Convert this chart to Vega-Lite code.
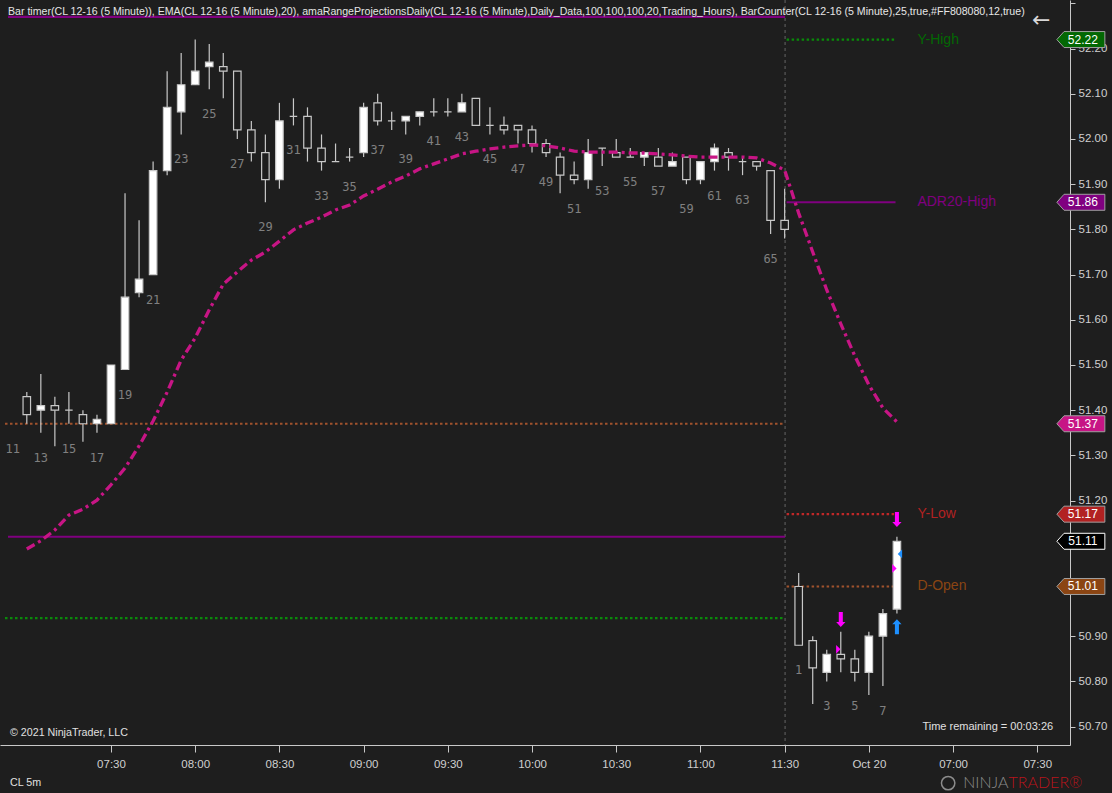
{
  "$schema": "https://vega.github.io/schema/vega-lite/v6.json",
  "width": 1070,
  "height": 745,
  "padding": {"left": 0, "top": 0, "right": 42, "bottom": 48},
  "autosize": {"type": "none"},
  "background": "#1e1e1e",
  "config": {
    "view": {"stroke": null},
    "text": {"font": "Liberation Sans"},
    "axis": {"labelFont": "Liberation Sans", "labelFontSize": 11.5, "labelColor": "#d0d0d0", "domainColor": "#c8c8c8", "tickColor": "#c8c8c8", "grid": false, "labelOverlap": false, "labelFlush": false}
  },
  "datasets": {
    "candles": [
      {"g": 11, "n": 11, "l": 51.37},
      {"g": 12, "n": 12, "o": 51.43, "h": 51.44, "l": 51.37, "c": 51.39, "e": 51.093},
      {"g": 13, "n": 13, "o": 51.40, "h": 51.48, "l": 51.35, "c": 51.41, "e": 51.111},
      {"g": 14, "n": 14, "o": 51.41, "h": 51.43, "l": 51.32, "c": 51.40, "e": 51.135},
      {"g": 15, "n": 15, "o": 51.40, "h": 51.44, "l": 51.37, "c": 51.40, "e": 51.168},
      {"g": 16, "n": 16, "o": 51.39, "h": 51.40, "l": 51.33, "c": 51.37, "e": 51.181},
      {"g": 17, "n": 17, "o": 51.37, "h": 51.39, "l": 51.35, "c": 51.38, "e": 51.201},
      {"g": 18, "n": 18, "o": 51.37, "h": 51.50, "l": 51.37, "c": 51.50, "e": 51.235},
      {"g": 19, "n": 19, "o": 51.49, "h": 51.88, "l": 51.49, "c": 51.65, "e": 51.272},
      {"g": 20, "n": 20, "o": 51.66, "h": 51.82, "l": 51.65, "c": 51.69, "e": 51.321},
      {"g": 21, "n": 21, "o": 51.70, "h": 51.95, "l": 51.70, "c": 51.93, "e": 51.376},
      {"g": 22, "n": 22, "o": 51.93, "h": 52.15, "l": 51.92, "c": 52.07, "e": 51.440},
      {"g": 23, "n": 23, "o": 52.06, "h": 52.19, "l": 52.01, "c": 52.12, "e": 51.511},
      {"g": 24, "n": 24, "o": 52.12, "h": 52.22, "l": 52.12, "c": 52.15, "e": 51.560},
      {"g": 25, "n": 25, "o": 52.16, "h": 52.21, "l": 52.11, "c": 52.17, "e": 51.622},
      {"g": 26, "n": 26, "o": 52.16, "h": 52.19, "l": 52.09, "c": 52.15, "e": 51.679},
      {"g": 27, "n": 27, "o": 52.15, "h": 52.15, "l": 52.00, "c": 52.02, "e": 51.706},
      {"g": 28, "n": 28, "o": 52.02, "h": 52.04, "l": 51.95, "c": 51.97, "e": 51.732},
      {"g": 29, "n": 29, "o": 51.97, "h": 52.01, "l": 51.86, "c": 51.91, "e": 51.750},
      {"g": 30, "n": 30, "o": 51.91, "h": 52.08, "l": 51.89, "c": 52.04, "e": 51.774},
      {"g": 31, "n": 31, "o": 52.05, "h": 52.09, "l": 52.03, "c": 52.05, "e": 51.799},
      {"g": 32, "n": 32, "o": 52.05, "h": 52.07, "l": 51.95, "c": 51.98, "e": 51.814},
      {"g": 33, "n": 33, "o": 51.98, "h": 52.01, "l": 51.93, "c": 51.95, "e": 51.827},
      {"g": 34, "n": 34, "o": 51.95, "h": 51.99, "l": 51.95, "c": 51.95, "e": 51.843},
      {"g": 35, "n": 35, "o": 51.96, "h": 51.98, "l": 51.95, "c": 51.96, "e": 51.854},
      {"g": 36, "n": 36, "o": 51.97, "h": 52.08, "l": 51.96, "c": 52.07, "e": 51.874},
      {"g": 37, "n": 37, "o": 52.08, "h": 52.10, "l": 52.03, "c": 52.04, "e": 51.889},
      {"g": 38, "n": 38, "o": 52.04, "h": 52.06, "l": 52.02, "c": 52.04, "e": 51.905},
      {"g": 39, "n": 39, "o": 52.04, "h": 52.05, "l": 52.01, "c": 52.05, "e": 51.918},
      {"g": 40, "n": 40, "o": 52.05, "h": 52.06, "l": 52.03, "c": 52.06, "e": 51.934},
      {"g": 41, "n": 41, "o": 52.06, "h": 52.09, "l": 52.05, "c": 52.06, "e": 51.945},
      {"g": 42, "n": 42, "o": 52.06, "h": 52.09, "l": 52.05, "c": 52.06, "e": 51.956},
      {"g": 43, "n": 43, "o": 52.06, "h": 52.10, "l": 52.06, "c": 52.08, "e": 51.967},
      {"g": 44, "n": 44, "o": 52.09, "h": 52.09, "l": 52.03, "c": 52.03, "e": 51.973},
      {"g": 45, "n": 45, "o": 52.03, "h": 52.07, "l": 52.01, "c": 52.03, "e": 51.978},
      {"g": 46, "n": 46, "o": 52.03, "h": 52.05, "l": 52.01, "c": 52.02, "e": 51.982},
      {"g": 47, "n": 47, "o": 52.03, "h": 52.03, "l": 51.99, "c": 52.02, "e": 51.985},
      {"g": 48, "n": 48, "o": 52.02, "h": 52.03, "l": 51.97, "c": 51.99, "e": 51.987},
      {"g": 49, "n": 49, "o": 51.99, "h": 52.00, "l": 51.96, "c": 51.97, "e": 51.985},
      {"g": 50, "n": 50, "o": 51.96, "h": 51.97, "l": 51.88, "c": 51.92, "e": 51.980},
      {"g": 51, "n": 51, "o": 51.92, "h": 51.95, "l": 51.90, "c": 51.91, "e": 51.973},
      {"g": 52, "n": 52, "o": 51.91, "h": 52.00, "l": 51.89, "c": 51.97, "e": 51.971},
      {"g": 53, "n": 53, "o": 51.98, "h": 51.98, "l": 51.94, "c": 51.98, "e": 51.971},
      {"g": 54, "n": 54, "o": 51.97, "h": 52.00, "l": 51.96, "c": 51.96, "e": 51.971},
      {"g": 55, "n": 55, "o": 51.96, "h": 51.98, "l": 51.96, "c": 51.96, "e": 51.969},
      {"g": 56, "n": 56, "o": 51.96, "h": 51.97, "l": 51.94, "c": 51.97, "e": 51.969},
      {"g": 57, "n": 57, "o": 51.96, "h": 51.98, "l": 51.94, "c": 51.94, "e": 51.967},
      {"g": 58, "n": 58, "o": 51.94, "h": 51.97, "l": 51.94, "c": 51.95, "e": 51.965},
      {"g": 59, "n": 59, "o": 51.96, "h": 51.96, "l": 51.90, "c": 51.91, "e": 51.962},
      {"g": 60, "n": 60, "o": 51.91, "h": 51.95, "l": 51.90, "c": 51.95, "e": 51.960},
      {"g": 61, "n": 61, "o": 51.95, "h": 51.99, "l": 51.93, "c": 51.98, "e": 51.960},
      {"g": 62, "n": 62, "o": 51.97, "h": 51.98, "l": 51.93, "c": 51.96, "e": 51.960},
      {"g": 63, "n": 63, "o": 51.95, "h": 51.96, "l": 51.92, "c": 51.95, "e": 51.960},
      {"g": 64, "n": 64, "o": 51.95, "h": 51.95, "l": 51.93, "c": 51.94, "e": 51.958},
      {"g": 65, "n": 65, "o": 51.93, "h": 51.93, "l": 51.79, "c": 51.82, "e": 51.947},
      {"g": 66, "n": 66, "o": 51.82, "h": 51.89, "l": 51.78, "c": 51.80, "e": 51.931},
      {"g": 67, "n": 1, "o": 51.01, "h": 51.04, "l": 50.88, "c": 50.88, "e": 51.836},
      {"g": 68, "n": 2, "o": 50.89, "h": 50.90, "l": 50.75, "c": 50.83, "e": 51.750},
      {"g": 69, "n": 3, "o": 50.82, "h": 50.87, "l": 50.80, "c": 50.86, "e": 51.666},
      {"g": 70, "n": 4, "o": 50.86, "h": 50.91, "l": 50.82, "c": 50.85, "e": 51.591},
      {"g": 71, "n": 5, "o": 50.85, "h": 50.87, "l": 50.80, "c": 50.82, "e": 51.520},
      {"g": 72, "n": 6, "o": 50.82, "h": 50.91, "l": 50.77, "c": 50.90, "e": 51.456},
      {"g": 73, "n": 7, "o": 50.90, "h": 50.96, "l": 50.79, "c": 50.95, "e": 51.405},
      {"g": 74, "n": 8, "o": 50.96, "h": 51.12, "l": 50.95, "c": 51.11, "e": 51.374}
    ],
    "levels": [
      {"name": "ADR20-High", "session": 1, "price": 52.27, "g1": 10.66, "g2": 66.03},
      {"name": "D-Open", "session": 1, "price": 51.37, "g1": 10.447, "g2": 66.03},
      {"name": "ADR20-Low", "session": 1, "price": 51.12, "g1": 10.66, "g2": 66.03},
      {"name": "Y-High", "session": 1, "price": 50.94, "g1": 10.447, "g2": 66.03},
      {"name": "Y-High", "session": 2, "price": 52.22, "g1": 66.14, "g2": 73.85},
      {"name": "ADR20-High", "session": 2, "price": 51.86, "g1": 66.14, "g2": 73.9},
      {"name": "Y-Low", "session": 2, "price": 51.17, "g1": 66.14, "g2": 73.9},
      {"name": "D-Open", "session": 2, "price": 51.01, "g1": 66.14, "g2": 73.9}
    ],
    "tags": [
      {"name": "Y-High", "price": 52.22},
      {"name": "ADR20-High", "price": 51.86},
      {"name": "EMA", "price": 51.37},
      {"name": "Y-Low", "price": 51.17},
      {"name": "Last", "price": 51.11},
      {"name": "D-Open", "price": 51.01}
    ],
    "signals": [
      {"g": 70, "p": 50.937, "kind": "short"},
      {"g": 74, "p": 51.158, "kind": "short"},
      {"g": 74, "p": 50.921, "kind": "long"},
      {"g": 70, "p": 50.871, "kind": "mark-r"},
      {"g": 74, "p": 51.050, "kind": "mark-r"},
      {"g": 74, "p": 51.082, "kind": "mark-l"}
    ]
  },
  "layer": [
    {
      "data": {"values": [{"g": 66.03}]},
      "mark": {"type": "rule", "stroke": "#666666", "strokeDash": [3, 3], "strokeWidth": 1},
      "encoding": {
        "x": {"field": "g", "type": "quantitative", "scale": {"domain": [10.447, 85.976], "nice": false, "zero": false},
          "axis": {"title": null, "orient": "bottom", "values": [18, 24, 30, 36, 42, 48, 54, 60, 66, 72, 78, 84],
            "labelExpr": "['07:30','08:00','08:30','09:00','09:30','10:00','10:30','11:00','11:30','Oct 20','07:00','07:30'][round((datum.value-18)/6)]",
            "tickSize": 7, "labelPadding": 6}}
      }
    },
    {
      "data": {"name": "levels"},
      "mark": {"type": "rule", "strokeWidth": 2.2},
      "encoding": {
        "x": {"field": "g1", "type": "quantitative", "scale": {"domain": [10.447, 85.976], "nice": false, "zero": false}},
        "x2": {"field": "g2"},
        "y": {"field": "price", "type": "quantitative", "scale": {"domain": [50.6593, 52.3075], "nice": false, "zero": false},
          "axis": {"title": null, "orient": "right", "values": [50.7, 50.8, 50.9, 51.0, 51.1, 51.2, 51.3, 51.4, 51.5, 51.6, 51.7, 51.8, 51.9, 52.0, 52.1, 52.2, 52.3],
            "labelExpr": "(datum.value > 52.25 || abs(datum.value - 51.0) < 0.01 || abs(datum.value - 51.1) < 0.01) ? '' : format(datum.value, '.2f')", "tickSize": 5, "labelPadding": 3}},
        "stroke": {"field": "name", "type": "nominal", "legend": null,
          "scale": {"domain": ["Y-High", "Y-Low", "D-Open", "ADR20-High", "ADR20-Low"], "range": ["#0a8a0a", "#c02828", "#a0522d", "#800080", "#800080"]}},
        "strokeDash": {"field": "name", "type": "nominal", "legend": null,
          "scale": {"domain": ["Y-High", "Y-Low", "D-Open", "ADR20-High", "ADR20-Low"], "range": [[2.5, 2.5], [2.5, 2.5], [2.5, 2.5], [1, 0], [1, 0]]}}
      }
    },
    {
      "data": {"name": "candles"},
      "transform": [{"filter": "isValid(datum.o)"}],
      "mark": {"type": "rule", "stroke": "#c8c8c8", "strokeWidth": 1.2},
      "encoding": {
        "x": {"field": "g", "type": "quantitative", "scale": {"domain": [10.447, 85.976], "nice": false, "zero": false}},
        "y": {"field": "l", "type": "quantitative", "scale": {"domain": [50.6593, 52.3075], "nice": false, "zero": false}},
        "y2": {"field": "h"}
      }
    },
    {
      "data": {"name": "candles"},
      "transform": [{"filter": "isValid(datum.o)"}],
      "mark": {"type": "bar", "size": 7.5, "stroke": "#c8c8c8", "strokeWidth": 1.2},
      "encoding": {
        "x": {"field": "g", "type": "quantitative", "scale": {"domain": [10.447, 85.976], "nice": false, "zero": false}},
        "y": {"field": "o", "type": "quantitative", "scale": {"domain": [50.6593, 52.3075], "nice": false, "zero": false}},
        "y2": {"field": "c"},
        "fill": {"condition": {"test": "datum.c > datum.o", "value": "#ffffff"}, "value": "#1e1e1e"}
      }
    },
    {
      "data": {"name": "candles"},
      "transform": [{"filter": "isValid(datum.e)"}],
      "mark": {"type": "line", "stroke": "#c71585", "strokeWidth": 3.3, "strokeDash": [9, 4, 3, 4], "strokeCap": "butt"},
      "encoding": {
        "x": {"field": "g", "type": "quantitative", "scale": {"domain": [10.447, 85.976], "nice": false, "zero": false}},
        "y": {"field": "e", "type": "quantitative", "scale": {"domain": [50.6593, 52.3075], "nice": false, "zero": false}}
      }
    },
    {
      "data": {"name": "candles"},
      "transform": [{"filter": "datum.n % 2 == 1"}],
      "mark": {"type": "text", "font": "DejaVu Sans Mono", "fontSize": 12, "color": "#808080", "baseline": "middle", "align": "center", "dy": 25},
      "encoding": {
        "x": {"field": "g", "type": "quantitative", "scale": {"domain": [10.447, 85.976], "nice": false, "zero": false}},
        "y": {"field": "l", "type": "quantitative", "scale": {"domain": [50.6593, 52.3075], "nice": false, "zero": false}},
        "text": {"field": "n", "type": "nominal"}
      }
    },
    {
      "data": {"name": "levels"},
      "transform": [{"filter": "datum.session == 2"}],
      "mark": {"type": "text", "fontSize": 14, "align": "left", "baseline": "middle"},
      "encoding": {
        "x": {"datum": 75.46, "type": "quantitative", "scale": {"domain": [10.447, 85.976], "nice": false, "zero": false}},
        "y": {"field": "price", "type": "quantitative", "scale": {"domain": [50.6593, 52.3075], "nice": false, "zero": false}},
        "text": {"field": "name", "type": "nominal"},
        "fill": {"field": "name", "type": "nominal", "legend": null,
          "scale": {"domain": ["Y-High", "Y-Low", "D-Open", "ADR20-High", "ADR20-Low", "EMA", "Last"], "range": ["#036803", "#b22222", "#8b4513", "#800080", "#800080", "#c71585", "#000000"]}}
      }
    },
    {
      "data": {"name": "signals"},
      "transform": [{"filter": "datum.kind == 'short'"}],
      "mark": {"type": "point", "shape": "M-0.27,-1L0.27,-1L0.27,0.33L0.62,0.33L0,1L-0.62,0.33L-0.27,0.33Z", "size": 225, "filled": true, "color": "#ff00ff", "opacity": 1},
      "encoding": {
        "x": {"field": "g", "type": "quantitative", "scale": {"domain": [10.447, 85.976], "nice": false, "zero": false}},
        "y": {"field": "p", "type": "quantitative", "scale": {"domain": [50.6593, 52.3075], "nice": false, "zero": false}}
      }
    },
    {
      "data": {"name": "signals"},
      "transform": [{"filter": "datum.kind == 'long'"}],
      "mark": {"type": "point", "shape": "M-0.27,1L0.27,1L0.27,-0.33L0.62,-0.33L0,-1L-0.62,-0.33L-0.27,-0.33Z", "size": 225, "filled": true, "color": "#1e90ff", "opacity": 1},
      "encoding": {
        "x": {"field": "g", "type": "quantitative", "scale": {"domain": [10.447, 85.976], "nice": false, "zero": false}},
        "y": {"field": "p", "type": "quantitative", "scale": {"domain": [50.6593, 52.3075], "nice": false, "zero": false}}
      }
    },
    {
      "data": {"name": "signals"},
      "transform": [{"filter": "datum.kind == 'mark-r'"}],
      "mark": {"type": "point", "shape": "M-0.5,-1L0.5,0L-0.5,1Z", "size": 76, "filled": true, "color": "#ff00ff", "opacity": 1},
      "encoding": {
        "x": {"field": "g", "type": "quantitative", "scale": {"domain": [10.447, 85.976], "nice": false, "zero": false}},
        "y": {"field": "p", "type": "quantitative", "scale": {"domain": [50.6593, 52.3075], "nice": false, "zero": false}},
        "xOffset": {"value": -2.5}
      }
    },
    {
      "data": {"name": "signals"},
      "transform": [{"filter": "datum.kind == 'mark-l'"}],
      "mark": {"type": "point", "shape": "M0.5,-1L-0.5,0L0.5,1Z", "size": 76, "filled": true, "color": "#1e90ff", "opacity": 1},
      "encoding": {
        "x": {"field": "g", "type": "quantitative", "scale": {"domain": [10.447, 85.976], "nice": false, "zero": false}},
        "y": {"field": "p", "type": "quantitative", "scale": {"domain": [50.6593, 52.3075], "nice": false, "zero": false}},
        "xOffset": {"value": 3}
      }
    },
    {
      "data": {"name": "tags"},
      "mark": {"type": "point", "shape": "M-1,0L-0.7,-0.333L1,-0.333L1,0.333L-0.7,0.333Z", "size": 2304, "filled": true, "opacity": 1, "strokeWidth": 1},
      "encoding": {
        "x": {"datum": 87.106, "type": "quantitative", "scale": {"domain": [10.447, 85.976], "nice": false, "zero": false}},
        "y": {"field": "price", "type": "quantitative", "scale": {"domain": [50.6593, 52.3075], "nice": false, "zero": false}},
        "fill": {"field": "name", "type": "nominal", "legend": null,
          "scale": {"domain": ["Y-High", "Y-Low", "D-Open", "ADR20-High", "ADR20-Low", "EMA", "Last"], "range": ["#036803", "#b22222", "#8b4513", "#800080", "#800080", "#c71585", "#000000"]}},
        "stroke": {"condition": {"test": "datum.name == 'Last'", "value": "#ffffff"}, "value": "#a0a0a0"}
      }
    },
    {
      "data": {"name": "tags"},
      "mark": {"type": "text", "fontSize": 12, "color": "#ffffff", "align": "center", "baseline": "middle"},
      "encoding": {
        "x": {"datum": 87.25, "type": "quantitative", "scale": {"domain": [10.447, 85.976], "nice": false, "zero": false}},
        "y": {"field": "price", "type": "quantitative", "scale": {"domain": [50.6593, 52.3075], "nice": false, "zero": false}},
        "text": {"field": "price", "type": "quantitative", "format": ".2f"}
      }
    },
    {
      "data": {"values": [{"text": "Bar timer(CL 12-16 (5 Minute)), EMA(CL 12-16 (5 Minute),20), amaRangeProjectionsDaily(CL 12-16 (5 Minute),Daily_Data,100,100,100,20,Trading_Hours), BarCounter(CL 12-16 (5 Minute),25,true,#FF808080,12,true)", "g": 10.66, "p": 52.281}]},
      "mark": {"type": "text", "fontSize": 10.6, "color": "#e6e6e6", "align": "left", "baseline": "middle"},
      "encoding": {
        "x": {"field": "g", "type": "quantitative", "scale": {"domain": [10.447, 85.976], "nice": false, "zero": false}},
        "y": {"field": "p", "type": "quantitative", "scale": {"domain": [50.6593, 52.3075], "nice": false, "zero": false}},
        "text": {"field": "text", "type": "nominal"}
      }
    },
    {
      "data": {"values": [{"text": "←", "g": 84.28, "p": 52.263}]},
      "mark": {"type": "text", "font": "DejaVu Sans", "fontSize": 22, "color": "#d8d8d8", "align": "center", "baseline": "middle"},
      "encoding": {
        "x": {"field": "g", "type": "quantitative", "scale": {"domain": [10.447, 85.976], "nice": false, "zero": false}},
        "y": {"field": "p", "type": "quantitative", "scale": {"domain": [50.6593, 52.3075], "nice": false, "zero": false}},
        "text": {"field": "text", "type": "nominal"}
      }
    },
    {
      "data": {"values": [{"text": "© 2021 NinjaTrader, LLC", "g": 10.80, "p": 50.686}, {"text": "CL 5m", "g": 10.80, "p": 50.575}]},
      "mark": {"type": "text", "fontSize": 10.7, "color": "#e0e0e0", "align": "left", "baseline": "middle"},
      "encoding": {
        "x": {"field": "g", "type": "quantitative", "scale": {"domain": [10.447, 85.976], "nice": false, "zero": false}},
        "y": {"field": "p", "type": "quantitative", "scale": {"domain": [50.6593, 52.3075], "nice": false, "zero": false}},
        "text": {"field": "text", "type": "nominal"}
      }
    },
    {
      "data": {"values": [{"text": "Time remaining = 00:03:26", "g": 85.13, "p": 50.699}]},
      "mark": {"type": "text", "fontSize": 11, "color": "#e0e0e0", "align": "right", "baseline": "middle"},
      "encoding": {
        "x": {"field": "g", "type": "quantitative", "scale": {"domain": [10.447, 85.976], "nice": false, "zero": false}},
        "y": {"field": "p", "type": "quantitative", "scale": {"domain": [50.6593, 52.3075], "nice": false, "zero": false}},
        "text": {"field": "text", "type": "nominal"}
      }
    },
    {
      "data": {"values": [{"text": "NINJA", "g": 81.95, "p": 50.575}]},
      "mark": {"type": "text", "font": "Lato", "fontWeight": 300, "fontSize": 16, "color": "#8c8c8c", "align": "right", "baseline": "middle"},
      "encoding": {
        "x": {"field": "g", "type": "quantitative", "scale": {"domain": [10.447, 85.976], "nice": false, "zero": false}},
        "y": {"field": "p", "type": "quantitative", "scale": {"domain": [50.6593, 52.3075], "nice": false, "zero": false}},
        "text": {"field": "text", "type": "nominal"}
      }
    },
    {
      "data": {"values": [{"text": "TRADER®", "g": 81.95, "p": 50.575}]},
      "mark": {"type": "text", "font": "Lato", "fontWeight": 300, "fontSize": 16, "color": "#b8141c", "align": "left", "baseline": "middle"},
      "encoding": {
        "x": {"field": "g", "type": "quantitative", "scale": {"domain": [10.447, 85.976], "nice": false, "zero": false}},
        "y": {"field": "p", "type": "quantitative", "scale": {"domain": [50.6593, 52.3075], "nice": false, "zero": false}},
        "text": {"field": "text", "type": "nominal"}
      }
    },
    {
      "data": {"values": [{"g": 77.65, "p": 50.575}]},
      "mark": {"type": "point", "shape": "circle", "size": 180, "filled": false, "stroke": "#8c8c8c", "strokeWidth": 1.5, "opacity": 1},
      "encoding": {
        "x": {"field": "g", "type": "quantitative", "scale": {"domain": [10.447, 85.976], "nice": false, "zero": false}},
        "y": {"field": "p", "type": "quantitative", "scale": {"domain": [50.6593, 52.3075], "nice": false, "zero": false}}
      }
    }
  ]
}
